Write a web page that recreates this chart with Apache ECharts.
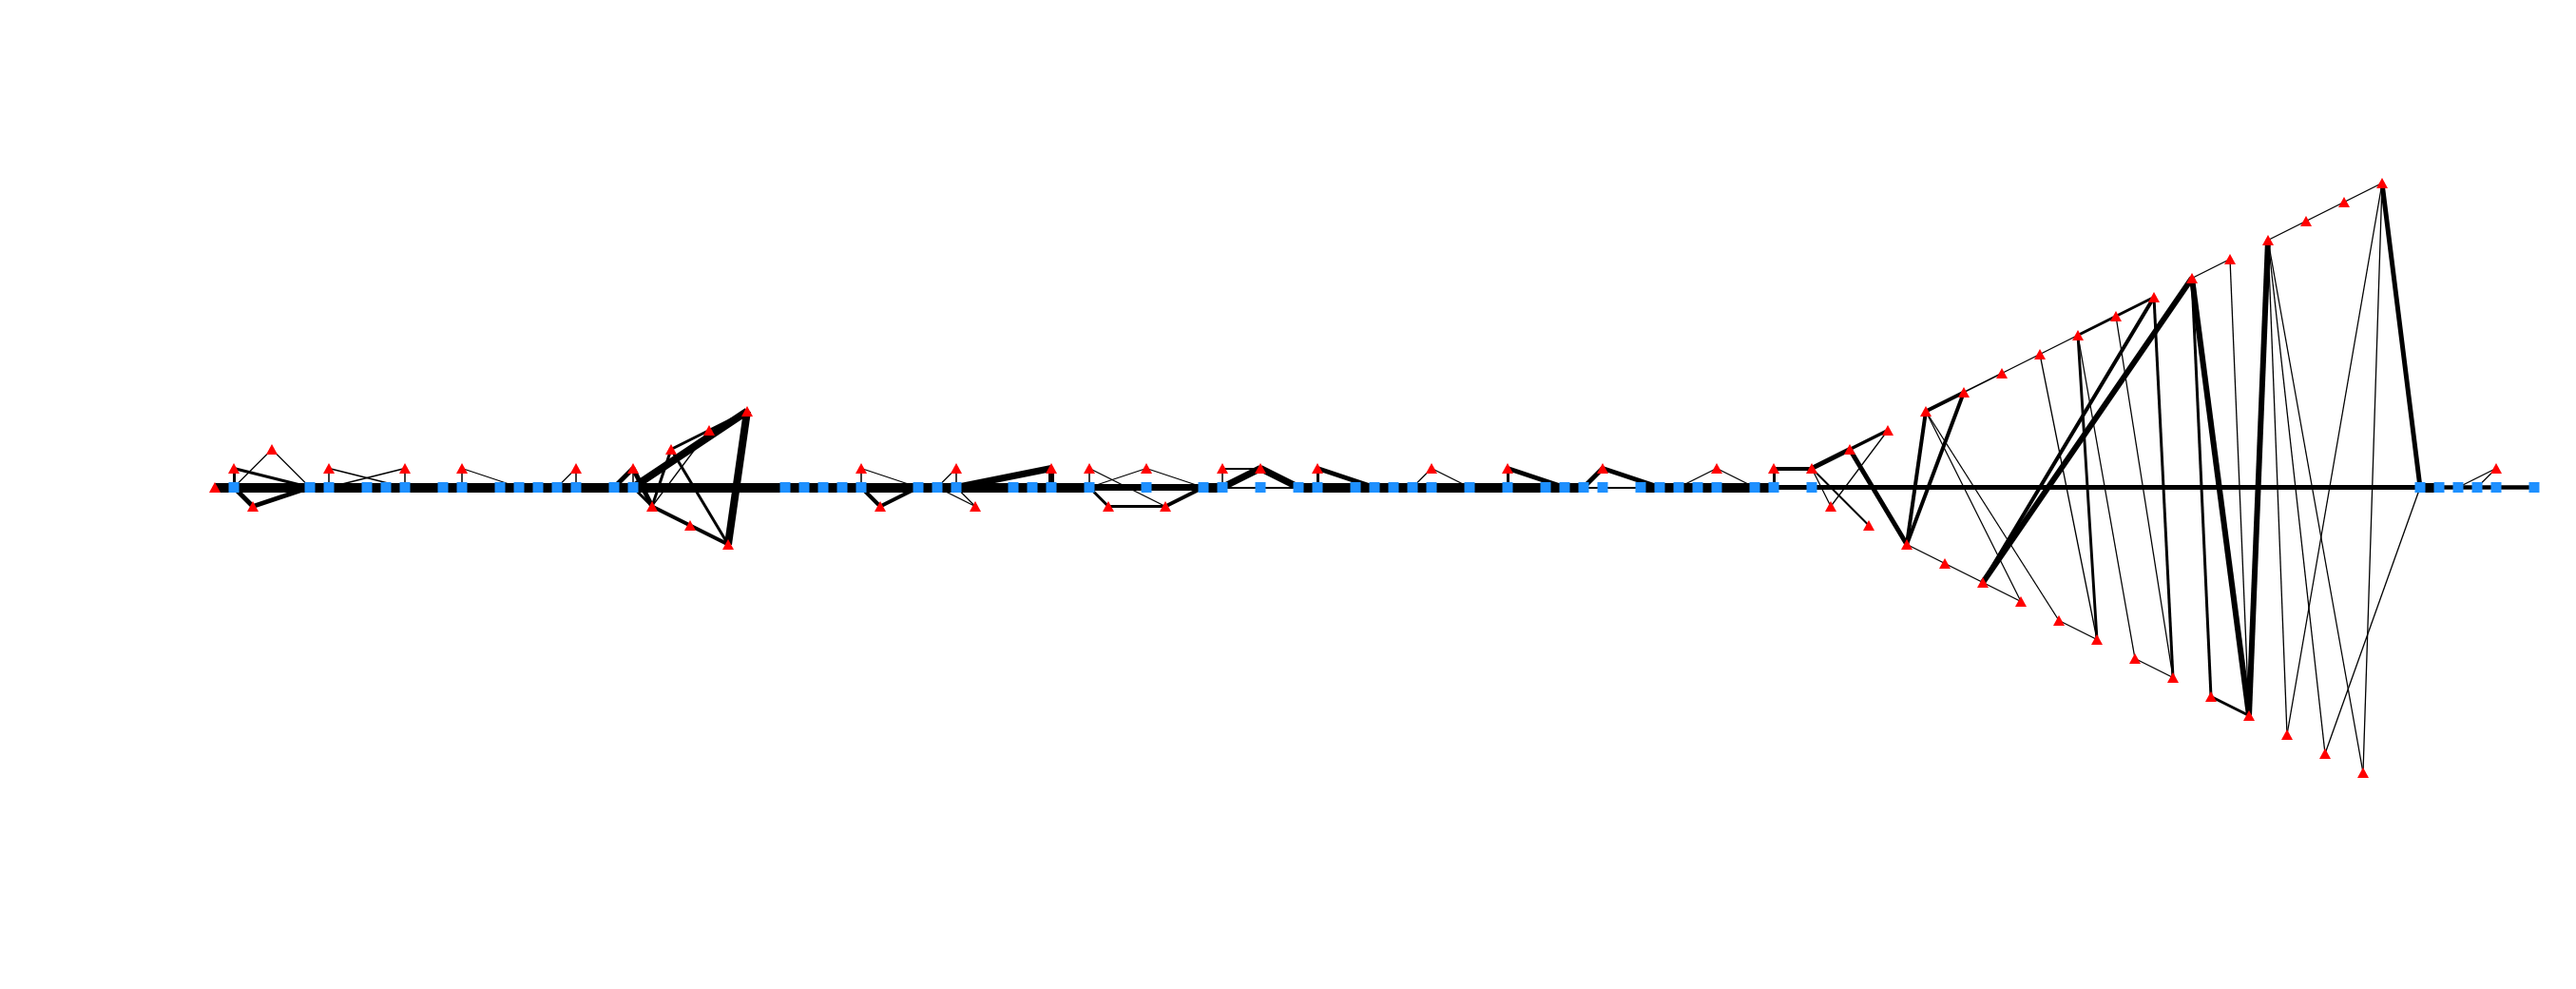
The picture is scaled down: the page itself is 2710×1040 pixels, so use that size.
<!DOCTYPE html>
<html>
<head>
<meta charset="utf-8">
<script src="https://cdn.jsdelivr.net/npm/echarts@6.0.0/dist/echarts.min.js"></script>
<style>
  html, body { margin: 0; padding: 0; background: #fff; }
  #chart { width: 2710px; height: 1040px; }
</style>
</head>
<body>
<div id="chart"></div>
<script>
// --- blue squares: columns of the main path (level 0) --- //
const squareCols = [12, 16, 17, 19, 20, 21, 23, 24, 26, 27, 28, 29, 30, 32, 33, 41, 42, 43,
  44, 45, 48, 49, 50, 53, 54, 55, 57, 60, 63, 64, 66, 68, 69, 71, 72, 73, 74, 75, 77,
  79, 81, 82, 83, 84, 86, 87, 88, 89, 90, 92, 93, 95, 127, 128, 129, 130, 131, 133];

// --- red triangles: [column, level], level > 0 above the main path --- //
const triangleNodes = [
  [11, 0], [12, 1], [13, -1], [14, 2], [17, 1], [21, 1], [24, 1], [30, 1],
  [33, 1], [34, -1], [35, 2], [36, -2], [37, 3], [38, -3], [39, 4],
  [45, 1], [46, -1], [50, 1], [51, -1], [55, 1], [57, 1], [58, -1], [60, 1], [61, -1],
  [64, 1], [66, 1], [69, 1], [75, 1], [79, 1], [84, 1], [90, 1], [93, 1],
  [95, 1], [96, -1], [97, 2], [98, -2], [99, 3], [100, -3], [101, 4], [102, -4],
  [103, 5], [104, -5], [105, 6], [106, -6], [107, 7], [108, -7], [109, 8], [110, -8],
  [111, 9], [112, -9], [113, 10], [114, -10], [115, 11], [116, -11], [117, 12], [118, -12],
  [119, 13], [120, -13], [121, 14], [122, -14], [123, 15], [124, -15], [125, 16],
  [131, 1]
];

// --- main path links: [source, target, weight] --- //
const pathLinks = [
  ['t11', 's12', 10], ['s12', 's16', 10], ['s16', 's17', 10], ['s17', 's19', 10], ['s19', 's20', 10],
  ['s20', 's21', 10], ['s21', 's23', 10], ['s23', 's24', 10], ['s24', 's26', 10], ['s26', 's27', 10],
  ['s27', 's28', 10], ['s28', 's29', 10], ['s29', 's30', 10], ['s30', 's32', 10], ['s32', 's33', 10],
  ['s33', 's41', 10], ['s41', 's42', 10], ['s42', 's43', 10], ['s43', 's44', 10], ['s44', 's45', 10],
  ['s45', 's48', 10], ['s48', 's49', 10], ['s49', 's50', 10], ['s50', 's53', 10], ['s53', 's54', 10],
  ['s54', 's55', 10], ['s55', 's57', 10], ['s57', 's60', 7], ['s60', 's63', 7], ['s63', 's64', 10],
  ['s64', 's66', 2], ['s66', 's68', 2], ['s68', 's69', 10], ['s69', 's71', 10], ['s71', 's72', 10],
  ['s72', 's73', 10], ['s73', 's74', 10], ['s74', 's75', 10], ['s75', 's77', 10], ['s77', 's79', 10],
  ['s79', 's81', 10], ['s81', 's82', 10], ['s82', 's83', 10], ['s83', 's84', 2], ['s84', 's86', 2],
  ['s86', 's87', 10], ['s87', 's88', 10], ['s88', 's89', 10], ['s89', 's90', 10], ['s90', 's92', 10],
  ['s92', 's93', 10], ['s93', 's95', 5], ['s95', 's127', 5], ['s127', 's128', 10], ['s128', 's129', 4.5],
  ['s129', 's130', 4.5], ['s130', 's131', 4.5], ['s131', 's133', 4.5]
];

// --- branch links: [source, target, weight] --- //
const branchLinks = [
  ['s12', 't12', 3], ['t12', 's16', 3], ['t14', 's12', 1], ['t14', 's16', 1],
  ['s12', 't13', 5], ['t13', 's16', 5],
  ['t17', 's17', 1.5], ['t17', 's21', 1], ['t21', 's17', 1], ['t21', 's21', 1.5],
  ['t24', 's24', 1.5], ['t24', 's27', 1], ['t30', 's30', 1.5], ['t30', 's29', 1],
  ['s32', 't33', 5], ['t33', 's33', 1.5], ['t33', 't34', 5], ['s33', 't34', 3],
  ['s33', 't39', 8], ['t35', 't37', 3], ['t37', 't39', 3], ['t35', 't34', 3],
  ['t34', 't37', 1], ['t35', 't38', 3], ['t34', 't36', 4], ['t36', 't38', 4], ['t38', 't39', 8],
  ['t45', 's45', 1.5], ['t45', 's48', 1], ['s45', 't46', 4], ['t46', 's48', 4],
  ['t50', 's50', 1.5], ['t50', 's49', 1], ['s49', 't51', 1], ['s50', 't51', 1],
  ['s50', 't55', 7], ['t55', 's55', 6],
  ['t57', 's57', 1.5], ['t57', 't61', 1], ['s57', 't58', 3], ['t58', 't61', 3], ['t61', 's63', 4],
  ['t60', 's57', 1], ['t60', 's63', 1],
  ['t64', 's64', 1.5], ['t64', 't66', 2], ['s64', 't66', 7], ['t66', 's68', 7],
  ['t69', 's69', 3], ['t69', 's72', 5], ['t75', 's74', 1], ['t75', 's77', 1],
  ['t79', 's79', 3], ['t79', 's82', 5], ['s83', 't84', 5], ['t84', 's87', 5],
  ['t90', 's88', 1], ['t90', 's92', 1], ['t93', 's93', 3], ['t93', 't95', 4],
  ['t95', 't97', 5], ['t97', 't99', 3.5], ['t95', 't96', 1], ['t95', 't98', 2], ['t96', 't99', 1],
  ['t97', 't100', 5], ['t101', 't100', 4], ['t103', 't100', 4],
  ['t100', 't102', 1], ['t102', 't104', 1], ['t104', 't106', 1],
  ['t101', 't106', 1], ['t101', 't108', 1], ['t108', 't110', 1], ['t107', 't110', 1],
  ['t109', 't110', 3], ['t109', 't112', 1], ['t112', 't114', 1], ['t111', 't114', 1],
  ['t113', 't114', 3], ['t113', 't104', 4], ['t115', 't104', 6],
  ['t115', 't116', 3], ['t115', 't118', 6], ['t116', 't118', 3], ['t117', 't118', 1],
  ['t119', 't118', 6], ['t119', 't120', 1], ['t119', 't122', 1], ['t119', 't124', 1],
  ['t125', 's127', 5], ['t125', 't120', 1], ['t125', 't124', 1], ['s127', 't122', 1],
  ['t131', 's129', 1], ['t131', 's130', 1],
  ['t101', 't103', 4], ['t103', 't105', 1.5], ['t105', 't107', 1], ['t107', 't109', 1],
  ['t109', 't111', 3], ['t111', 't113', 3], ['t115', 't117', 1],
  ['t119', 't121', 1], ['t121', 't123', 1], ['t123', 't125', 1]
];

// --- construit les noeuds et les liens pour la série graph --- //
const nodes = [];
triangleNodes.forEach(([c, l]) => {
  nodes.push({
    name: 't' + c,
    value: [c, l],
    symbol: 'triangle',
    symbolSize: [12, 11],
    itemStyle: { color: '#ff0000' }
  });
});
squareCols.forEach(c => {
  nodes.push({
    name: 's' + c,
    value: [c, 0],
    symbol: 'rect',
    symbolSize: 11,
    itemStyle: { color: '#1e90ff' }
  });
});

// les liens fins (poids 1) sont un peu épaissis pour rester noirs à l'écran
const links = pathLinks.concat(branchLinks).map(([a, b, w]) => ({
  source: a,
  target: b,
  value: w,
  lineStyle: { width: w < 1.5 ? 1.3 : w }
}));

let option = {
  animation: false,
  backgroundColor: '#ffffff',
  grid: { left: 0, right: 0, top: 0, bottom: 0 },
  xAxis: { type: 'value', min: -0.3, max: 135.2, show: false },
  yAxis: { type: 'value', min: -26.375, max: 25.625, show: false },
  series: [
    {
      type: 'graph',
      layout: 'none',
      coordinateSystem: 'cartesian2d',
      silent: true,
      data: nodes,
      links: links,
      lineStyle: { color: '#000000', opacity: 1, curveness: 0 },
      label: { show: false },
      emphasis: { disabled: true }
    }
  ]
};

const echartsInstance = echarts.init(document.getElementById('chart'));
echartsInstance.setOption(option);
</script>
</body>
</html>
